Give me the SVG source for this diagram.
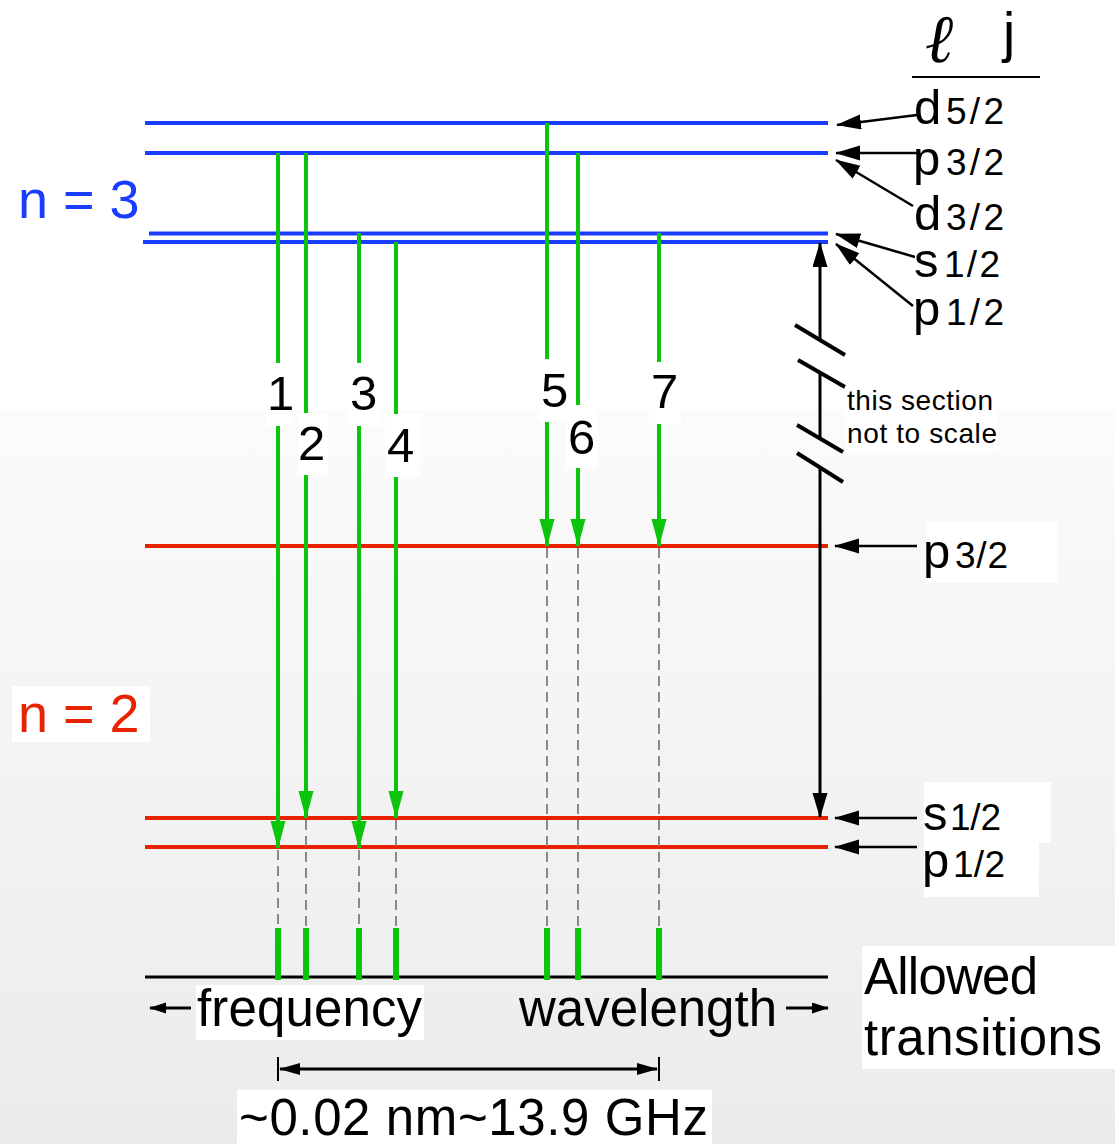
<svg xmlns="http://www.w3.org/2000/svg" width="1115" height="1144" viewBox="0 0 1115 1144">
<defs>
<linearGradient id="bg" x1="0" y1="0" x2="0" y2="1">
<stop offset="0" stop-color="#fbfbfb"/>
<stop offset="1" stop-color="#ebebeb"/>
</linearGradient>
<marker id="ga" markerUnits="userSpaceOnUse" markerWidth="30" markerHeight="16" refX="27" refY="7.5" orient="auto">
<path d="M0,0 L28,7.5 L0,15 z" fill="#0cc40c"/>
</marker>
<marker id="ba" markerUnits="userSpaceOnUse" markerWidth="28" markerHeight="16" refX="24" refY="7.5" orient="auto">
<path d="M0,0 L25,7.5 L0,15 z" fill="#000"/>
</marker>
<marker id="bs" markerUnits="userSpaceOnUse" markerWidth="18" markerHeight="12" refX="16" refY="5.5" orient="auto">
<path d="M0,0 L17,5.5 L0,11 z" fill="#000"/>
</marker>
<marker id="bm" markerUnits="userSpaceOnUse" markerWidth="22" markerHeight="14" refX="20" refY="6" orient="auto">
<path d="M0,0 L21,6 L0,12 z" fill="#000"/>
</marker>
</defs>
<style>
.t{font-family:"Liberation Sans",Arial,sans-serif;fill:#000}
.lv3{stroke:#1a3cff;stroke-width:4}
.lv2{stroke:#e82200;stroke-width:4}
.tr{stroke:#0cc40c;stroke-width:4;fill:none}
.bar{stroke:#0cc40c;stroke-width:6}
.ds{stroke:#8a8a8a;stroke-width:2;stroke-dasharray:10 6}
.la{stroke:#000;stroke-width:2.5;fill:none}
.bx{fill:#fff}
.let{font-size:49px}
.sub{font-size:37px}
.num{font-size:49px}
.big{font-size:51px}
</style>
<rect x="0" y="0" width="1115" height="1144" fill="#fff"/>
<rect x="0" y="410" width="1115" height="734" fill="url(#bg)"/>

<g id="levels">
<g id="n3-d52"><line class="lv3" x1="145" y1="123" x2="828" y2="123"/></g>
<g id="n3-p32"><line class="lv3" x1="145" y1="153" x2="828" y2="153"/></g>
<g id="n3-s12"><line class="lv3" x1="149" y1="233.5" x2="828" y2="233.5"/></g>
<g id="n3-p12"><line class="lv3" x1="143" y1="242" x2="828" y2="242"/></g>
<g id="n2-p32"><line class="lv2" x1="145" y1="546" x2="828" y2="546"/></g>
<g id="n2-s12"><line class="lv2" x1="145" y1="818" x2="828" y2="818"/></g>
<g id="n2-p12"><line class="lv2" x1="145" y1="847" x2="828" y2="847"/></g>
<g id="axis"><line x1="145" y1="977" x2="828" y2="977" stroke="#000" stroke-width="3"/></g>
</g>

<g id="connectors">
<line class="tr" x1="278" y1="153" x2="278" y2="848" marker-end="url(#ga)"/>
<line class="tr" x1="306" y1="153" x2="306" y2="818" marker-end="url(#ga)"/>
<line class="tr" x1="359" y1="233" x2="359" y2="848" marker-end="url(#ga)"/>
<line class="tr" x1="396" y1="242" x2="396" y2="818" marker-end="url(#ga)"/>
<line class="tr" x1="547" y1="123" x2="547" y2="546" marker-end="url(#ga)"/>
<line class="tr" x1="578" y1="153" x2="578" y2="546" marker-end="url(#ga)"/>
<line class="tr" x1="659" y1="233" x2="659" y2="546" marker-end="url(#ga)"/>

<line class="ds" x1="278" y1="850" x2="278" y2="928"/>
<line class="ds" x1="306" y1="820" x2="306" y2="928"/>
<line class="ds" x1="359" y1="850" x2="359" y2="928"/>
<line class="ds" x1="396" y1="820" x2="396" y2="928"/>
<line class="ds" x1="547" y1="548" x2="547" y2="928"/>
<line class="ds" x1="578" y1="548" x2="578" y2="928"/>
<line class="ds" x1="659" y1="548" x2="659" y2="928"/>

<line class="bar" x1="278" y1="928" x2="278" y2="980"/>
<line class="bar" x1="306" y1="928" x2="306" y2="980"/>
<line class="bar" x1="359" y1="928" x2="359" y2="980"/>
<line class="bar" x1="396" y1="928" x2="396" y2="980"/>
<line class="bar" x1="547" y1="928" x2="547" y2="980"/>
<line class="bar" x1="578" y1="928" x2="578" y2="980"/>
<line class="bar" x1="659" y1="928" x2="659" y2="980"/>

<line class="la" x1="917" y1="115" x2="837" y2="125" marker-end="url(#ba)"/>
<line class="la" x1="917" y1="153" x2="836" y2="153" marker-end="url(#ba)"/>
<line class="la" x1="913" y1="206" x2="836" y2="160" marker-end="url(#ba)"/>
<line class="la" x1="915" y1="257" x2="836" y2="234" marker-end="url(#ba)"/>
<line class="la" x1="913" y1="306" x2="836" y2="244" marker-end="url(#ba)"/>
<line class="la" x1="917" y1="546" x2="835" y2="546" marker-end="url(#ba)"/>
<line class="la" x1="917" y1="818" x2="835" y2="818" marker-end="url(#ba)"/>
<line class="la" x1="917" y1="847" x2="835" y2="847" marker-end="url(#ba)"/>

<line x1="820" y1="340" x2="820" y2="243" stroke="#000" stroke-width="3" marker-end="url(#ba)"/>
<line x1="820" y1="372" x2="820" y2="438" stroke="#000" stroke-width="3"/>
<line x1="820" y1="467" x2="820" y2="817" stroke="#000" stroke-width="3" marker-end="url(#ba)"/>
<g stroke="#000" stroke-width="4">
<line x1="795" y1="325" x2="845" y2="355"/>
<line x1="798" y1="360" x2="845" y2="387"/>
<line x1="797" y1="425" x2="843" y2="452"/>
<line x1="797" y1="453" x2="843" y2="482"/>
</g>

<line x1="191" y1="1008" x2="150" y2="1008" stroke="#000" stroke-width="3" marker-end="url(#bs)"/>
<line x1="786" y1="1008" x2="828" y2="1008" stroke="#000" stroke-width="3" marker-end="url(#bs)"/>

<line x1="300" y1="1069" x2="280" y2="1069" stroke="#000" stroke-width="3" marker-end="url(#bm)"/>
<line x1="290" y1="1069" x2="657" y2="1069" stroke="#000" stroke-width="3" marker-end="url(#bm)"/>
<line x1="278" y1="1057" x2="278" y2="1081" stroke="#000" stroke-width="2"/>
<line x1="659" y1="1057" x2="659" y2="1081" stroke="#000" stroke-width="2"/>
</g>

<g id="boxes">
<rect class="bx" x="266" y="363" width="26" height="63"/>
<rect class="bx" x="298" y="413" width="30" height="62"/>
<rect class="bx" x="348" y="363" width="33" height="63"/>
<rect class="bx" x="385" y="414" width="35" height="63"/>
<rect class="bx" x="538" y="359" width="32" height="63"/>
<rect class="bx" x="566" y="405" width="32" height="63"/>
<rect class="bx" x="649" y="362" width="32" height="62"/>
<rect class="bx" x="12" y="686" width="138" height="56"/>
<rect class="bx" x="926" y="522" width="131" height="61"/>
<rect class="bx" x="924" y="782" width="127" height="61"/>
<rect class="bx" x="924" y="843" width="115" height="54"/>
<rect class="bx" x="196" y="985" width="228" height="55"/>
<rect class="bx" x="237" y="1090" width="475" height="54"/>
<rect class="bx" x="862" y="946" width="253" height="123"/>
<rect class="bx" x="845" y="386" width="153" height="66"/>
</g>

<g id="labels">
<text x="18" y="218" style="font-family:'Liberation Sans',Arial,sans-serif;font-size:54px;fill:#1a3cff" xml:space="preserve">n = 3</text>
<text x="18" y="732" style="font-family:'Liberation Sans',Arial,sans-serif;font-size:54px;fill:#e82200" xml:space="preserve">n = 2</text>

<text x="926" y="62" style="font-family:'DejaVu Serif',serif;font-size:68px;font-style:italic;font-weight:bold;fill:#000">ℓ</text>
<text x="1003" y="51" class="t" style="font-size:55px">j</text>
<line x1="912" y1="77" x2="1040" y2="77" stroke="#000" stroke-width="2"/>

<g id="lab-d52"><text class="t let" x="914" y="124">d</text><text class="t sub" x="946" y="124" textLength="58">5/2</text></g>
<g id="lab-p32a"><text class="t let" x="913" y="175">p</text><text class="t sub" x="946" y="175" textLength="58">3/2</text></g>
<g id="lab-d32"><text class="t let" x="914" y="230">d</text><text class="t sub" x="946" y="230" textLength="58">3/2</text></g>
<g id="lab-s12a"><text class="t let" x="914" y="277">s</text><text class="t sub" x="944" y="277" textLength="56">1/2</text></g>
<g id="lab-p12a"><text class="t let" x="913" y="325">p</text><text class="t sub" x="946" y="325" textLength="58">1/2</text></g>
<g id="lab-p32b"><text class="t let" x="923" y="568">p</text><text class="t sub" x="955" y="568" textLength="53">3/2</text></g>
<g id="lab-s12b"><text class="t let" x="923" y="830">s</text><text class="t sub" x="950" y="830" textLength="51">1/2</text></g>
<g id="lab-p12b"><text class="t let" x="922" y="877">p</text><text class="t sub" x="953" y="877" textLength="52">1/2</text></g>

<text class="t" x="847" y="410" style="font-size:28px" textLength="146">this section</text>
<text class="t" x="847" y="443" style="font-size:28px" textLength="150">not to scale</text>

<text class="t num" x="267" y="410">1</text>
<text class="t num" x="298" y="460">2</text>
<text class="t num" x="350" y="410">3</text>
<text class="t num" x="387" y="462">4</text>
<text class="t num" x="541" y="407">5</text>
<text class="t num" x="568" y="454">6</text>
<text class="t num" x="651" y="408">7</text>

<text class="t big" x="197" y="1026" textLength="225">frequency</text>
<text class="t big" x="519" y="1026" textLength="258">wavelength</text>
<text class="t big" x="239" y="1135" textLength="469">~0.02 nm~13.9 GHz</text>
<text class="t big" x="864" y="994" textLength="174">Allowed</text>
<text class="t big" x="864" y="1055" textLength="238">transitions</text>
</g>
</svg>
